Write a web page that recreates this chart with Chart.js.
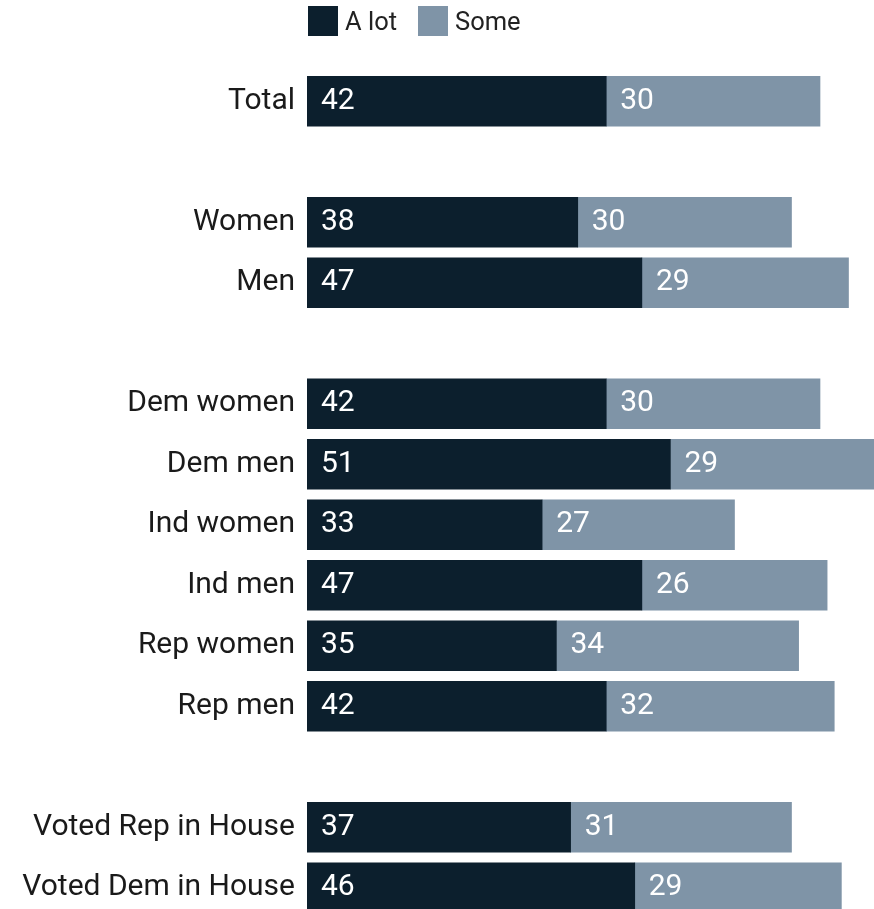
<!DOCTYPE html>
<html>
<head>
<meta charset="utf-8">
<script src="https://cdn.jsdelivr.net/npm/chart.js@4/dist/chart.umd.min.js"></script>
<style>
    html, body { margin: 0; padding: 0; background: #fff; overflow: hidden; }
    #wrap { position: relative; width: 877px; height: 918px; }
    #legend { position: absolute; top: 6px; left: 308px; display: flex; align-items: center;
              font-family: Roboto, sans-serif; font-size: 25.5px; color: #222; }
    #legend .item { display: flex; align-items: center; margin-right: 21px; }
    #legend .box { width: 30px; height: 30px; margin-right: 7px; }
</style>
</head>
<body>
<div id="wrap">
    <canvas id="attentionChart" width="877" height="918"></canvas>
    <div id="legend"></div>
</div>
<script>
// Groups are separated by blank rows
const groups = ['Total', '', 'Women', 'Men', '', 'Dem women', 'Dem men', 'Ind women', 'Ind men',
                'Rep women', 'Rep men', '', 'Voted Rep in House', 'Voted Dem in House'];
const aLot = [42, null, 38, 47, null, 42, 51, 33, 47, 35, 42, null, 37, 46];
const some = [30, null, 30, 29, null, 30, 29, 27, 26, 34, 32, null, 31, 29];
const seriesNames = ['A lot', 'Some'];
const seriesColors = ['#0c1f2d', '#7f94a7'];

// Legend drawn as html above the plot
const legendEl = document.getElementById('legend');
seriesNames.forEach((name, i) => {
    const item = document.createElement('div');
    item.className = 'item';
    item.innerHTML = `<span class="box" style="background:${seriesColors[i]}"></span>${name}`;
    legendEl.appendChild(item);
});

// White value labels at the start of each segment
const segmentLabels = {
    id: 'segmentLabels',
    afterDatasetsDraw(chart) {
        const ctx = chart.ctx;
        ctx.save();
        ctx.fillStyle = '#fff';
        ctx.font = '30px Roboto, sans-serif';
        ctx.textAlign = 'left';
        ctx.textBaseline = 'middle';
        chart.data.datasets.forEach((ds, di) => {
            chart.getDatasetMeta(di).data.forEach((bar, i) => {
                const v = ds.data[i];
                if (v == null) return;
                const left = Math.min(bar.x, bar.base);
                ctx.fillText(String(v), left + 14, bar.y);
            });
        });
        ctx.restore();
    }
};

new Chart(document.getElementById('attentionChart').getContext('2d'), {
    type: 'bar',
    data: {
        labels: groups,
        datasets: [
            { label: seriesNames[0], data: aLot, backgroundColor: seriesColors[0], borderWidth: 0 },
            { label: seriesNames[1], data: some, backgroundColor: seriesColors[1], borderWidth: 0 }
        ]
    },
    options: {
        indexAxis: 'y',
        responsive: false,
        animation: false,
        barThickness: 50,
        layout: { padding: { top: 71, right: 0, bottom: 0, left: 0 } },
        plugins: {
            legend: { display: false },
            tooltip: { enabled: false }
        },
        scales: {
            x: { stacked: true, min: 0, max: 80, display: false },
            y: {
                stacked: true,
                grid: { display: false, drawTicks: false },
                border: { display: false },
                ticks: {
                    color: '#1a1a1a',
                    font: { family: 'Roboto, sans-serif', size: 30 },
                    padding: 12,
                    autoSkip: false
                },
                afterFit: scale => {
                    scale.width = 307;
                    scale.paddingTop = 0;
                    scale.paddingBottom = 0;
                }
            }
        }
    },
    plugins: [segmentLabels]
});
</script>
</body>
</html>
